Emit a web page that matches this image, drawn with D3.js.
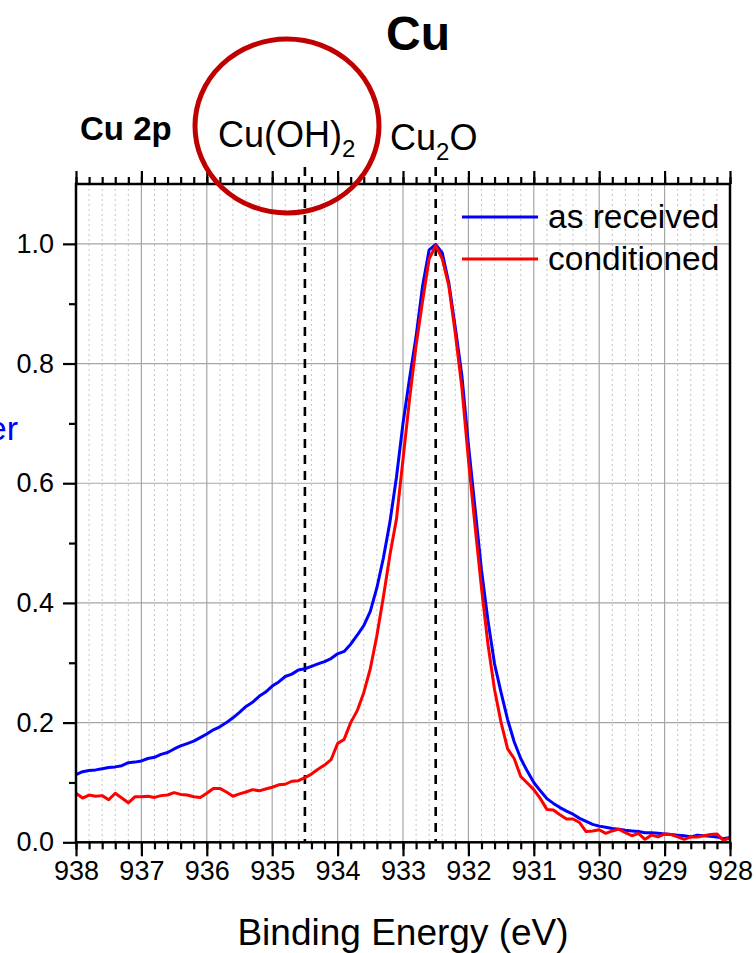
<!DOCTYPE html>
<html>
<head>
<meta charset="utf-8">
<script src="https://cdn.jsdelivr.net/npm/d3@7"></script>
<style>
  html, body { margin: 0; padding: 0; background: #fff; }
  svg { display: block; }
  text { font-family: "Liberation Sans", Arial, sans-serif; }
</style>
</head>
<body>
<svg id="chart" width="756" height="953"></svg>
<script>
// Cu 2p XPS spectra, normalised intensity vs binding energy (0.1 eV steps, 938 -> 928 eV)
const energies = d3.range(0, 101).map(i => +(938 - i * 0.1).toFixed(1));

const asReceived = [
  0.113, 0.118, 0.120, 0.121, 0.123, 0.125, 0.126, 0.128, 0.133, 0.134,
  0.136, 0.140, 0.142, 0.147, 0.150, 0.156, 0.161, 0.165, 0.169, 0.175,
  0.181, 0.188, 0.193, 0.200, 0.208, 0.217, 0.227, 0.234, 0.244, 0.251,
  0.261, 0.268, 0.277, 0.281, 0.288, 0.290, 0.294, 0.298, 0.302, 0.307,
  0.315, 0.319, 0.331, 0.346, 0.362, 0.386, 0.425, 0.475, 0.535, 0.610,
  0.700, 0.775, 0.845, 0.930, 0.990, 0.999, 0.985, 0.935, 0.860, 0.780,
  0.665, 0.560, 0.455, 0.370, 0.298, 0.250, 0.205, 0.168, 0.140, 0.119,
  0.100, 0.086, 0.073, 0.065, 0.058, 0.052, 0.047, 0.040, 0.035, 0.030,
  0.027, 0.025, 0.023, 0.022, 0.020, 0.019, 0.018, 0.016, 0.016, 0.015,
  0.014, 0.013, 0.012, 0.011, 0.009, 0.012, 0.011, 0.010, 0.009, 0.006,
  0.008
];

const conditioned = [
  0.082, 0.074, 0.079, 0.077, 0.078, 0.071, 0.082, 0.074, 0.066, 0.076,
  0.076, 0.077, 0.075, 0.078, 0.079, 0.083, 0.080, 0.079, 0.076, 0.075,
  0.082, 0.090, 0.090, 0.084, 0.077, 0.081, 0.084, 0.088, 0.086, 0.089,
  0.092, 0.096, 0.097, 0.102, 0.103, 0.108, 0.114, 0.122, 0.129, 0.138,
  0.165, 0.172, 0.200, 0.220, 0.250, 0.290, 0.345, 0.410, 0.480, 0.540,
  0.640, 0.740, 0.830, 0.905, 0.975, 0.997, 0.975, 0.930, 0.850, 0.760,
  0.640, 0.530, 0.425, 0.330, 0.255, 0.200, 0.156, 0.140, 0.110, 0.099,
  0.088, 0.073, 0.055, 0.054, 0.046, 0.039, 0.039, 0.033, 0.018, 0.019,
  0.021, 0.015, 0.019, 0.022, 0.016, 0.011, 0.015, 0.005, 0.012, 0.009,
  0.014, 0.013, 0.009, 0.005, 0.009, 0.009, 0.011, 0.013, 0.014, 0.003,
  0.008
];

const seriesNames = ["as received", "conditioned"];
const seriesColors = ["#0000ff", "#ff0000"];
const xTickValues = [938, 937, 936, 935, 934, 933, 932, 931, 930, 929, 928];
const yTickValues = [0.0, 0.2, 0.4, 0.6, 0.8, 1.0];
const referenceLines = [934.5, 932.5];   // Cu(OH)2 and Cu2O positions

const svg = d3.select("#chart");
const plotLeft = 76, plotRight = 730, plotTop = 184, plotBottom = 842.3;

const x = d3.scaleLinear().domain([938, 928]).range([plotLeft, plotRight]);
const y = d3.scaleLinear().domain([0, 1.1]).range([plotBottom, plotTop]);

// minor vertical grid (dotted, every 0.2 eV)
const minorX = d3.range(0, 51).map(i => 938 - i * 0.2).filter(v => Math.abs(v - Math.round(v)) > 1e-6);
svg.append("g").selectAll("line").data(minorX).join("line")
  .attr("x1", d => x(d)).attr("x2", d => x(d))
  .attr("y1", plotTop).attr("y2", plotBottom)
  .attr("stroke", "#c4c4c4").attr("stroke-width", 1).attr("stroke-dasharray", "2,3");

// major grid
svg.append("g").selectAll("line").data(xTickValues.slice(1, -1)).join("line")
  .attr("x1", d => x(d)).attr("x2", d => x(d))
  .attr("y1", plotTop).attr("y2", plotBottom)
  .attr("stroke", "#a6a6a6").attr("stroke-width", 1.2);
svg.append("g").selectAll("line").data(yTickValues.slice(1)).join("line")
  .attr("x1", plotLeft).attr("x2", plotRight)
  .attr("y1", d => y(d)).attr("y2", d => y(d))
  .attr("stroke", "#a6a6a6").attr("stroke-width", 1.2);

// reference dashed lines
svg.append("g").selectAll("line").data(referenceLines).join("line")
  .attr("x1", d => x(d)).attr("x2", d => x(d))
  .attr("y1", 167).attr("y2", plotBottom)
  .attr("stroke", "#000").attr("stroke-width", 2.6).attr("stroke-dasharray", "9,7");

// spectra
const line = d3.line().x((d, i) => x(energies[i])).y(d => y(d));
[asReceived, conditioned].forEach((vals, k) => {
  svg.append("path").datum(vals)
    .attr("d", line)
    .attr("fill", "none")
    .attr("stroke", seriesColors[k])
    .attr("stroke-width", 3)
    .attr("stroke-linejoin", "round");
});

// axes
const minorTicks = d3.range(0, 51).map(i => +(938 - i * 0.2).toFixed(1));
const styleAxis = g => {
  g.select(".domain").remove();
  g.selectAll("line").attr("stroke", "#000").attr("stroke-width", 2.2);
};

const xBottomMinor = d3.axisBottom(x).tickValues(minorTicks).tickSize(7).tickFormat("");
svg.append("g").attr("transform", `translate(0,${plotBottom})`).call(xBottomMinor).call(styleAxis);
const xBottom = d3.axisBottom(x).tickValues(xTickValues).tickSize(14).tickPadding(6).tickFormat(d3.format("d"));
svg.append("g").attr("transform", `translate(0,${plotBottom})`).call(xBottom).call(styleAxis)
  .selectAll("text").attr("font-size", 27).attr("fill", "#000")
  .attr("font-family", "Liberation Sans, Arial, sans-serif").attr("dy", "0.66em");

const xTopMinor = d3.axisTop(x).tickValues(minorTicks).tickSize(7).tickFormat("");
svg.append("g").attr("transform", `translate(0,${plotTop})`).call(xTopMinor).call(styleAxis);
const xTop = d3.axisTop(x).tickValues(xTickValues).tickSize(13).tickFormat("");
svg.append("g").attr("transform", `translate(0,${plotTop})`).call(xTop).call(styleAxis);

const yMinor = d3.axisLeft(y).tickValues([0.1, 0.3, 0.5, 0.7, 0.9]).tickSize(7).tickFormat("");
svg.append("g").attr("transform", `translate(${plotLeft},0)`).call(yMinor).call(styleAxis);
const yAxis = d3.axisLeft(y).tickValues(yTickValues).tickSize(13).tickPadding(9).tickFormat(d3.format(".1f"));
svg.append("g").attr("transform", `translate(${plotLeft},0)`).call(yAxis).call(styleAxis)
  .selectAll("text").attr("font-size", 27).attr("fill", "#000")
  .attr("font-family", "Liberation Sans, Arial, sans-serif");

// frame
svg.append("rect").attr("x", plotLeft).attr("y", plotTop)
  .attr("width", plotRight - plotLeft).attr("height", plotBottom - plotTop)
  .attr("fill", "none").attr("stroke", "#000").attr("stroke-width", 2.5);

// axis title
svg.append("text").attr("x", 403).attr("y", 945).attr("text-anchor", "middle")
  .attr("font-size", 37).text("Binding Energy (eV)");

// panel title
svg.append("text").attr("x", 418).attr("y", 50).attr("text-anchor", "middle")
  .attr("font-family", "Open Sans, sans-serif").attr("font-weight", 700)
  .attr("font-size", 48).text("Cu");

svg.append("text").attr("x", 80).attr("y", 140)
  .attr("font-weight", 700).attr("font-size", 33).text("Cu 2p");

// species labels
const lab1 = svg.append("text").attr("x", 218).attr("y", 147).attr("font-size", 36);
lab1.append("tspan").text("Cu(OH)");
lab1.append("tspan").attr("font-size", 24).attr("dy", 10).text("2");

const lab2 = svg.append("text").attr("x", 390).attr("y", 150).attr("font-size", 36);
lab2.append("tspan").text("Cu");
lab2.append("tspan").attr("font-size", 24).attr("dy", 10).text("2");
lab2.append("tspan").attr("dy", -10).text("O");

// highlight ellipse
svg.append("ellipse").attr("cx", 287).attr("cy", 126).attr("rx", 92).attr("ry", 87)
  .attr("fill", "none").attr("stroke", "#c00000").attr("stroke-width", 5);

// side label running off the left edge
svg.append("text").attr("x", 18).attr("y", 440).attr("text-anchor", "end")
  .attr("font-size", 34).attr("fill", "#0000ff").text("er");

// legend
const legend = svg.append("g");
seriesNames.forEach((name, k) => {
  const ly = 217 + k * 42;
  legend.append("line").attr("x1", 462).attr("x2", 538).attr("y1", ly).attr("y2", ly)
    .attr("stroke", seriesColors[k]).attr("stroke-width", 3);
  legend.append("text").attr("x", 548).attr("y", ly + 11).attr("font-size", 33.5).text(name);
});
</script>
</body>
</html>
